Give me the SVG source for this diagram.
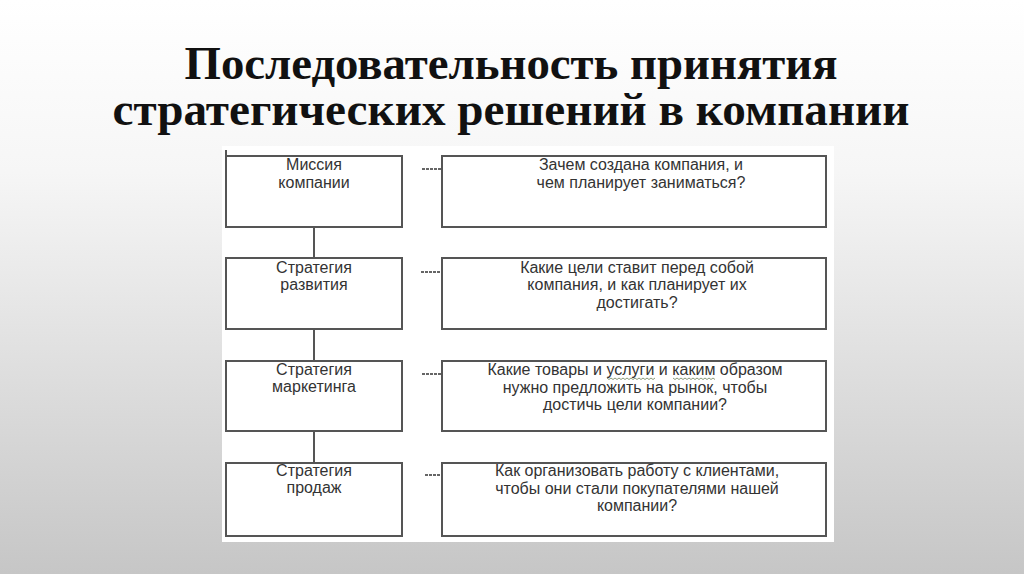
<svg xmlns="http://www.w3.org/2000/svg" width="1024" height="574" viewBox="0 0 1024 574">
<defs>
<linearGradient id="bg" x1="0" y1="0" x2="0" y2="1">
<stop offset="0" stop-color="#ffffff"/>
<stop offset="0.3" stop-color="#f6f6f6"/>
<stop offset="1" stop-color="#c6c6c6"/>
</linearGradient>
<style>
.title{font-family:"Liberation Serif","Times New Roman",serif;font-weight:bold;font-size:40px;fill:#111;text-anchor:middle}
.box{fill:#fff;stroke:#555;stroke-width:2}
.lbl{font-family:"Liberation Sans",Arial,sans-serif;font-size:16px;fill:#333;text-anchor:middle}
.conn{stroke:#555;stroke-width:2;fill:none}
.dash{stroke:#666;stroke-width:2;stroke-dasharray:3 1;fill:none}
.squig{stroke:#8a9a7a;stroke-width:1;fill:none}
</style>
</defs>
<rect x="0" y="0" width="1024" height="574" fill="url(#bg)"/>
<rect x="222" y="146" width="612" height="396" fill="#fff"/>
<g transform="translate(0,79) scale(1,1.15)">
<text class="title" x="511" y="0" textLength="653" lengthAdjust="spacingAndGlyphs">Последовательность принятия</text>
</g>
<g transform="translate(0,125) scale(1,1.15)">
<text class="title" x="511" y="0" textLength="797" lengthAdjust="spacingAndGlyphs">стратегических решений в компании</text>
</g>

<g id="connectors">
<line class="conn" x1="226" y1="150" x2="226" y2="156"/>
<line class="conn" x1="314" y1="227" x2="314" y2="258"/>
<line class="conn" x1="314" y1="329" x2="314" y2="361"/>
<line class="conn" x1="314" y1="431" x2="314" y2="463"/>
<line class="dash" x1="422" y1="169" x2="442" y2="169"/>
<line class="dash" x1="421" y1="272" x2="442" y2="272"/>
<line class="dash" x1="422" y1="374" x2="442" y2="374"/>
<line class="dash" x1="425" y1="475" x2="442" y2="475"/>
</g>

<g id="mission">
<rect class="box" x="226" y="156" width="176" height="71"/>
<text class="lbl" x="314" y="170">Миссия</text>
<text class="lbl" x="314" y="188">компании</text>
</g>
<g id="q-mission">
<rect class="box" x="442" y="156" width="384" height="71"/>
<text class="lbl" x="641" y="170">Зачем создана компания, и</text>
<text class="lbl" x="641" y="188">чем планирует заниматься?</text>
</g>

<g id="development">
<rect class="box" x="226" y="258" width="176" height="71"/>
<text class="lbl" x="314" y="273">Стратегия</text>
<text class="lbl" x="314" y="290">развития</text>
</g>
<g id="q-development">
<rect class="box" x="442" y="258" width="384" height="71"/>
<text class="lbl" x="637" y="273">Какие цели ставит перед собой</text>
<text class="lbl" x="637" y="290">компания, и как планирует их</text>
<text class="lbl" x="637" y="308">достигать?</text>
</g>

<g id="marketing">
<rect class="box" x="226" y="361" width="176" height="70"/>
<text class="lbl" x="314" y="375">Стратегия</text>
<text class="lbl" x="314" y="392">маркетинга</text>
</g>
<g id="q-marketing">
<rect class="box" x="442" y="361" width="384" height="70"/>
<text class="lbl" x="635" y="375">Какие товары и услуги и каким образом</text>
<text class="lbl" x="635" y="393">нужно предложить на рынок, чтобы</text>
<text class="lbl" x="635" y="410">достичь цели компании?</text>
<path class="squig" d="M607 378 l2 1.5 l2 -1.5 l2 1.5 l2 -1.5 l2 1.5 l2 -1.5 l2 1.5 l2 -1.5 l2 1.5 l2 -1.5 l2 1.5 l2 -1.5 l2 1.5 l2 -1.5 l2 1.5 l2 -1.5 l2 1.5 l2 -1.5 l2 1.5 l2 -1.5 l2 1.5 l2 -1.5 l2 1.5 l2 -1.5"/>
<path class="squig" d="M673 378 l2 1.5 l2 -1.5 l2 1.5 l2 -1.5 l2 1.5 l2 -1.5 l2 1.5 l2 -1.5 l2 1.5 l2 -1.5 l2 1.5 l2 -1.5 l2 1.5 l2 -1.5 l2 1.5 l2 -1.5 l2 1.5 l2 -1.5 l2 1.5 l2 -1.5 l2 1.5"/>
</g>

<g id="sales">
<rect class="box" x="226" y="463" width="176" height="73"/>
<text class="lbl" x="314" y="476">Стратегия</text>
<text class="lbl" x="314" y="493">продаж</text>
</g>
<g id="q-sales">
<rect class="box" x="442" y="463" width="384" height="73"/>
<text class="lbl" x="637" y="476">Как организовать  работу с клиентами,</text>
<text class="lbl" x="637" y="494">чтобы они стали покупателями нашей</text>
<text class="lbl" x="637" y="511">компании?</text>
</g>
</svg>
